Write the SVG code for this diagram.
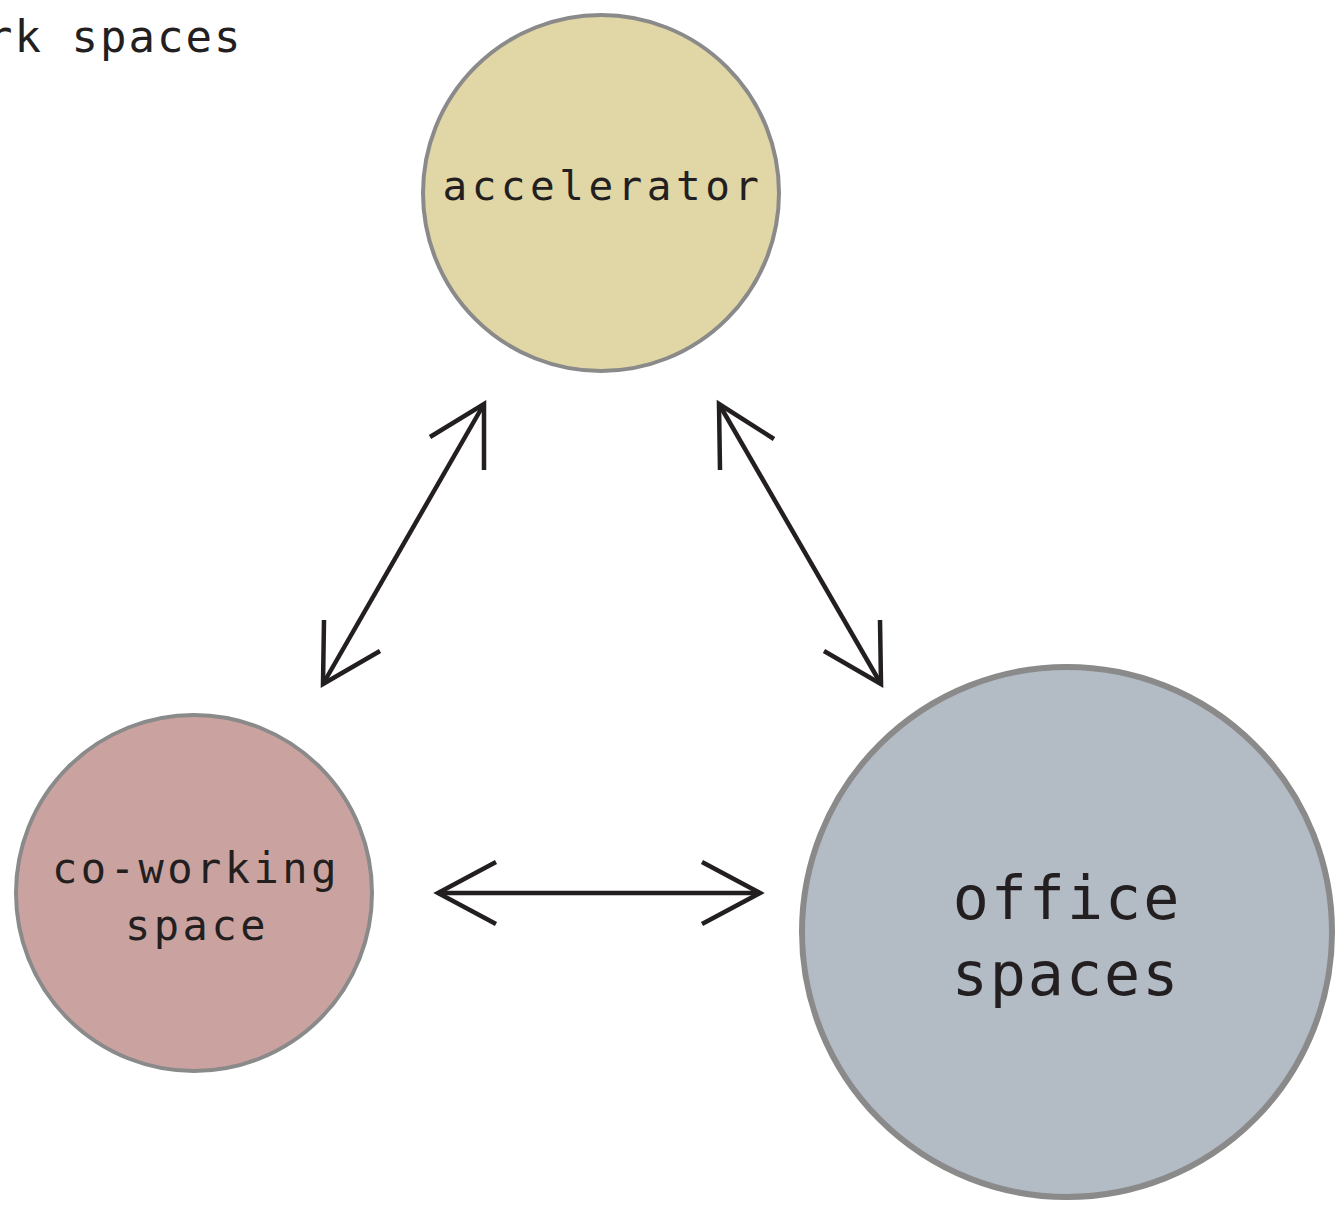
<svg xmlns="http://www.w3.org/2000/svg" width="1336" height="1207" viewBox="0 0 1336 1207">
<style>
.node circle{stroke:#8b8a8a;}
.lbl{font-family:"DejaVu Sans Mono","Liberation Mono",monospace;fill:#231f20;text-anchor:middle;}
.conn path{fill:none;stroke:#231f20;stroke-width:4.5;stroke-linecap:butt;stroke-linejoin:miter;}
</style>
<rect width="1336" height="1207" fill="#ffffff"/>
<text class="lbl" x="-14" y="52" font-size="44" letter-spacing="2" style="text-anchor:start">rk spaces</text>
<g id="accelerator" class="node">
<circle cx="601" cy="193" r="178" fill="#e0d6a6" stroke-width="4"/>
<text class="lbl" x="603" y="200" font-size="41" letter-spacing="4.5">accelerator</text>
</g>
<g id="coworking" class="node">
<circle cx="194" cy="893" r="178" fill="#caa3a0" stroke-width="4"/>
<text class="lbl" x="196" y="883" font-size="42" letter-spacing="3.5">co-working</text>
<text class="lbl" x="197" y="940" font-size="42" letter-spacing="3.5">space</text>
</g>
<g id="office" class="node">
<circle cx="1067" cy="932" r="265" fill="#b3bbc5" stroke-width="6"/>
<text class="lbl" x="1067" y="919" font-size="60" letter-spacing="2">office</text>
<text class="lbl" x="1066" y="995" font-size="60" letter-spacing="2">spaces</text>
</g>
<g id="connectors" class="conn">
<path d="M323 684 L484 404"/>
<path d="M430 437 L484 404 L484 470"/>
<path d="M324 620 L323 684 L380 651"/>
<path d="M881 684 L719 404"/>
<path d="M774 439 L719 404 L720 470"/>
<path d="M880 620 L881 684 L824 651"/>
<path d="M438 893 L760 893"/>
<path d="M496 862 L438 893 L496 924"/>
<path d="M702 862 L760 893 L702 924"/>
</g>
</svg>
